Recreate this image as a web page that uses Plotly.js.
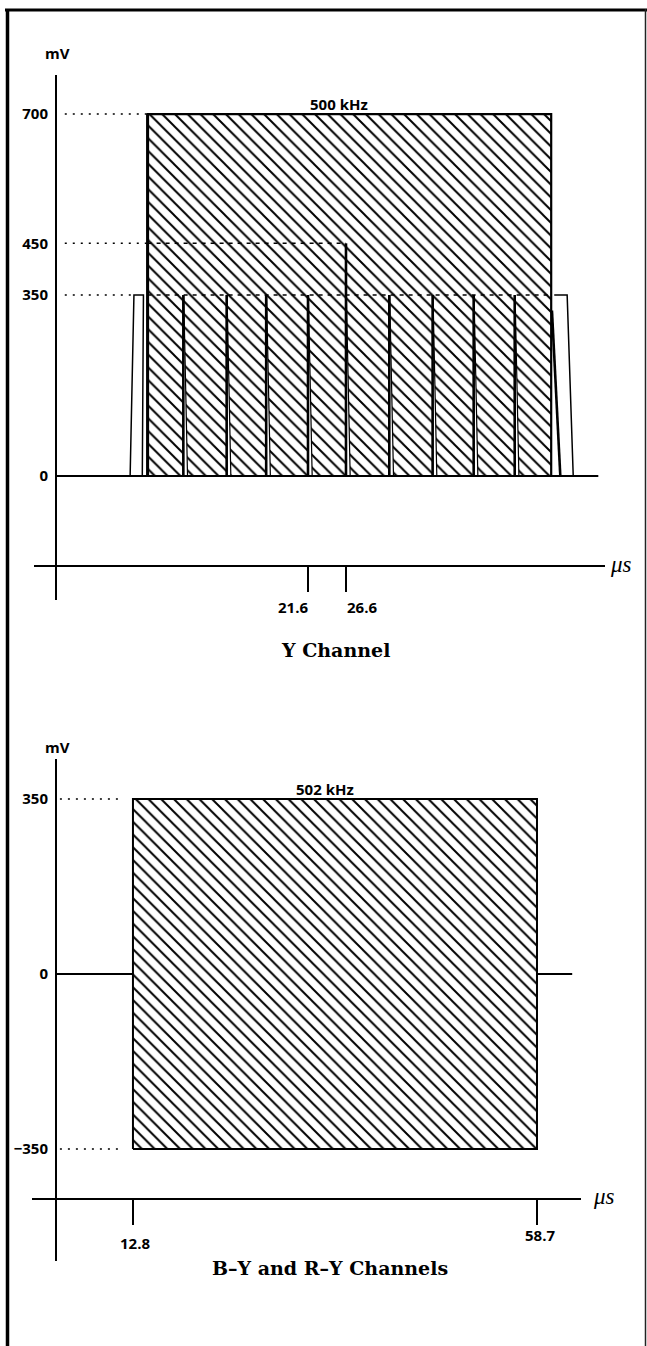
<!DOCTYPE html>
<html><head><meta charset="utf-8">
<script src="https://cdn.plot.ly/plotly-3.0.1.min.js"></script>
<style>html,body{margin:0;padding:0;background:#fff}#chart{width:647px;height:1346px}</style>
</head><body><div id="chart"></div>
<script>
// ================= DATA =================
// --- Y channel (times in µs, levels in mV) ---
const yLevelTicks = [0, 350, 450, 700];
const yTimeTicks = [21.6, 26.6];
const yBurstTimes = [0.5, 53.6];          // 500 kHz burst start / end
const yBurstLevel = 700;
const yStepLevel = 350;
const yStepEdges = [5.2, 10.9, 16.1, 21.6, 26.6, 32.3, 38.0, 43.4, 48.8];
const yHighStepEnd = 26.6;
const yHighStepLevel = 450;
const yPedestalRise = [-1.8, -1.3];       // bottom, top
const yPedestalFall = [55.7, 56.5];       // top, bottom
const yLeadEdge = [-0.05, -0.2];          // top, bottom
const yTailEdge = [53.7, 54.8];           // top, bottom
const yTailTop = 320;
const yBaselineEnd = 59.8;
const yBurstLabel = '500 kHz';

// --- B-Y / R-Y channels ---
const cLevelTicks = [-350, 0, 350];
const cTimeTicks = [12.8, 58.7];
const cBurstTimes = [12.8, 58.7];
const cBurstLevels = [-350, 350];
const cBaselineEnd = 62.7;
const cBurstLabel = '502 kHz';

// ================= LAYOUT HELPERS =================
const W = 647, H = 1346;
const px = v => v / W;
const py = v => 1 - v / H;

// axis ranges (schematic, chosen to match the drawing)
const topXRange = [-14.45, 60.68];
const topYRange = [-239.8, 775.5];
const topAxisX = -11.56;      // where the mV axis crosses
const topDotStart = -10.4;
const botXRange = [1.33, 63.70];
const botYRange = [-574, 430];
const botAxisX = 4.05;
const botDotStart = 4.5;
const botDotEnd = 11.7;

const black = '#000';
const hatch = {shape: '\\', fgcolor: black, bgcolor: '#fff', size: 9, solidity: 0.22, fillmode: 'replace'};
const dotted = '2px,6px';
const dashed = '4px,5px';

const traces = [];
function line(xs, ys, w, dash, axes) {
  traces.push({type: 'scatter', mode: 'lines', x: xs, y: ys, xaxis: axes[0], yaxis: axes[1],
    line: {color: black, width: w, dash: dash || 'solid'}, hoverinfo: 'skip', showlegend: false});
}
const A1 = ['x', 'y'], A2 = ['x2', 'y2'];

// ---------- TOP: Y channel ----------
traces.push({type: 'scatter', mode: 'lines', xaxis: 'x', yaxis: 'y',
  x: [yBurstTimes[0], yBurstTimes[0], yBurstTimes[1], yBurstTimes[1], yBurstTimes[0]],
  y: [0, yBurstLevel, yBurstLevel, 0, 0],
  fill: 'toself', fillcolor: '#fff', fillpattern: hatch,
  line: {color: black, width: 2.2}, hoverinfo: 'skip', showlegend: false});
(function () {
  const xs = [], ys = [];
  yStepEdges.forEach(t => { xs.push(t, t, t + 0.55, t + 0.05, null); ys.push(yStepLevel, 0, 0, yStepLevel, null); });
  traces.push({type: 'scatter', mode: 'lines', xaxis: 'x', yaxis: 'y', x: xs, y: ys,
    fill: 'toself', fillcolor: '#fff', line: {color: black, width: 1.2}, hoverinfo: 'skip', showlegend: false});
  const xt = [], yt = [];
  yStepEdges.forEach(t => { xt.push(t, t, null); yt.push(t === yHighStepEnd ? yHighStepLevel : yStepLevel, 0, null); });
  line(xt, yt, 2.6, null, A1);
})();
line([yBurstTimes[0], yBurstTimes[0]], [0, yBurstLevel], 3, null, A1);
line([yBurstTimes[0], yHighStepEnd], [yHighStepLevel, yHighStepLevel], 1.4, dashed, A1);
line([yBurstTimes[0], yBurstTimes[1]], [yStepLevel, yStepLevel], 1.4, dashed, A1);
line([yPedestalRise[0], yPedestalRise[1], yLeadEdge[0], yLeadEdge[1]], [0, yStepLevel, yStepLevel, 0], 1.5, null, A1);
line([yTailEdge[0] + 0.3, yPedestalFall[0], yPedestalFall[1]], [yStepLevel, yStepLevel, 0], 1.5, null, A1);
line(yTailEdge, [yTailTop, 0], 2.6, null, A1);
line([topAxisX, yBaselineEnd], [0, 0], 2, null, A1);
line([topDotStart, yBurstTimes[0]], [yBurstLevel, yBurstLevel], 1.6, dotted, A1);
line([topDotStart, yBurstTimes[0]], [yHighStepLevel, yHighStepLevel], 1.6, dotted, A1);
line([topDotStart, yPedestalRise[1]], [yStepLevel, yStepLevel], 1.6, dotted, A1);

// ---------- BOTTOM: B-Y / R-Y ----------
traces.push({type: 'scatter', mode: 'lines', xaxis: 'x2', yaxis: 'y2',
  x: [cBurstTimes[0], cBurstTimes[0], cBurstTimes[1], cBurstTimes[1], cBurstTimes[0]],
  y: [cBurstLevels[0], cBurstLevels[1], cBurstLevels[1], cBurstLevels[0], cBurstLevels[0]],
  fill: 'toself', fillcolor: '#fff', fillpattern: hatch,
  line: {color: black, width: 2}, hoverinfo: 'skip', showlegend: false});
line([botAxisX, cBurstTimes[0]], [0, 0], 2, null, A2);
line([cBurstTimes[1], cBaselineEnd], [0, 0], 2, null, A2);
line([botDotStart, botDotEnd], [cBurstLevels[1], cBurstLevels[1]], 1.6, dotted, A2);
line([botDotStart, botDotEnd], [cBurstLevels[0], cBurstLevels[0]], 1.6, dotted, A2);

// ================= LAYOUT =================
const tickFont = {family: 'Open Sans, Liberation Sans, sans-serif', size: 15, weight: 700, color: black};
const titleFont = {family: 'DejaVu Serif, serif', size: 19, weight: 700, color: black};
const unitFont = {family: 'Liberation Serif, serif', size: 23, style: 'italic', color: black};

function xAx(domain, range, posPx, ticks) {
  return {domain: domain, range: range, anchor: 'free', position: py(posPx), showgrid: false, zeroline: false,
    showline: true, linecolor: black, linewidth: 2, tickmode: 'array', tickvals: ticks,
    ticks: 'outside', ticklen: 25, tickwidth: 1.5, tickcolor: black, showticklabels: false, fixedrange: true};
}
function yAx(domain, range, ticks) {
  return {domain: domain, range: range, anchor: 'free', position: px(56), side: 'left', showgrid: false, zeroline: false,
    showline: true, linecolor: black, linewidth: 2, tickmode: 'array', tickvals: ticks, ticks: '',
    ticklabelstandoff: 4, tickfont: tickFont, fixedrange: true};
}

function note(text, xp, yp, font, xanchor) {
  return {text: text, x: px(xp), y: py(yp), xref: 'paper', yref: 'paper', showarrow: false,
    xanchor: xanchor || 'center', yanchor: 'middle', font: font};
}

const layout = {
  width: W, height: H, margin: {l: 0, r: 0, t: 0, b: 0},
  paper_bgcolor: '#fff', plot_bgcolor: 'rgba(0,0,0,0)', showlegend: false,
  xaxis: xAx([px(34), px(605)], topXRange, 566, yTimeTicks),
  yaxis: yAx([py(600), py(75)], topYRange, yLevelTicks),
  xaxis2: xAx([px(32), px(581)], botXRange, 1199, cTimeTicks),
  yaxis2: yAx([py(1261), py(759)], botYRange, cLevelTicks),
  annotations: [
    note('mV', 57, 53, tickFont),
    note(yBurstLabel, 339, 104, tickFont),
    note(String(yTimeTicks[0]), 310, 607, tickFont, 'right'),
    note(String(yTimeTicks[1]), 345, 607, tickFont, 'left'),
    note('\u03bcs', 621, 564, unitFont),
    note('Y Channel', 335, 650, titleFont),
    note('mV', 57, 747, tickFont),
    note(cBurstLabel, 325, 789, tickFont),
    note(String(cTimeTicks[0]), 135, 1243, tickFont),
    note(String(cTimeTicks[1]), 540, 1235, tickFont),
    note('\u03bcs', 604, 1196, unitFont),
    note('B\u2013Y and R\u2013Y Channels', 330, 1268, titleFont)
  ],
  shapes: [
    {type: 'line', xref: 'paper', yref: 'paper', x0: px(5), x1: px(647), y0: py(10), y1: py(10), line: {color: black, width: 3}},
    {type: 'line', xref: 'paper', yref: 'paper', x0: px(7.5), x1: px(7.5), y0: py(9), y1: py(1346), line: {color: black, width: 3.5}},
    {type: 'line', xref: 'paper', yref: 'paper', x0: px(645.5), x1: px(645.5), y0: py(9), y1: py(1346), line: {color: '#222', width: 1.5}}
  ]
};

Plotly.newPlot('chart', traces, layout, {staticPlot: true, displayModeBar: false});
</script>
</body></html>
